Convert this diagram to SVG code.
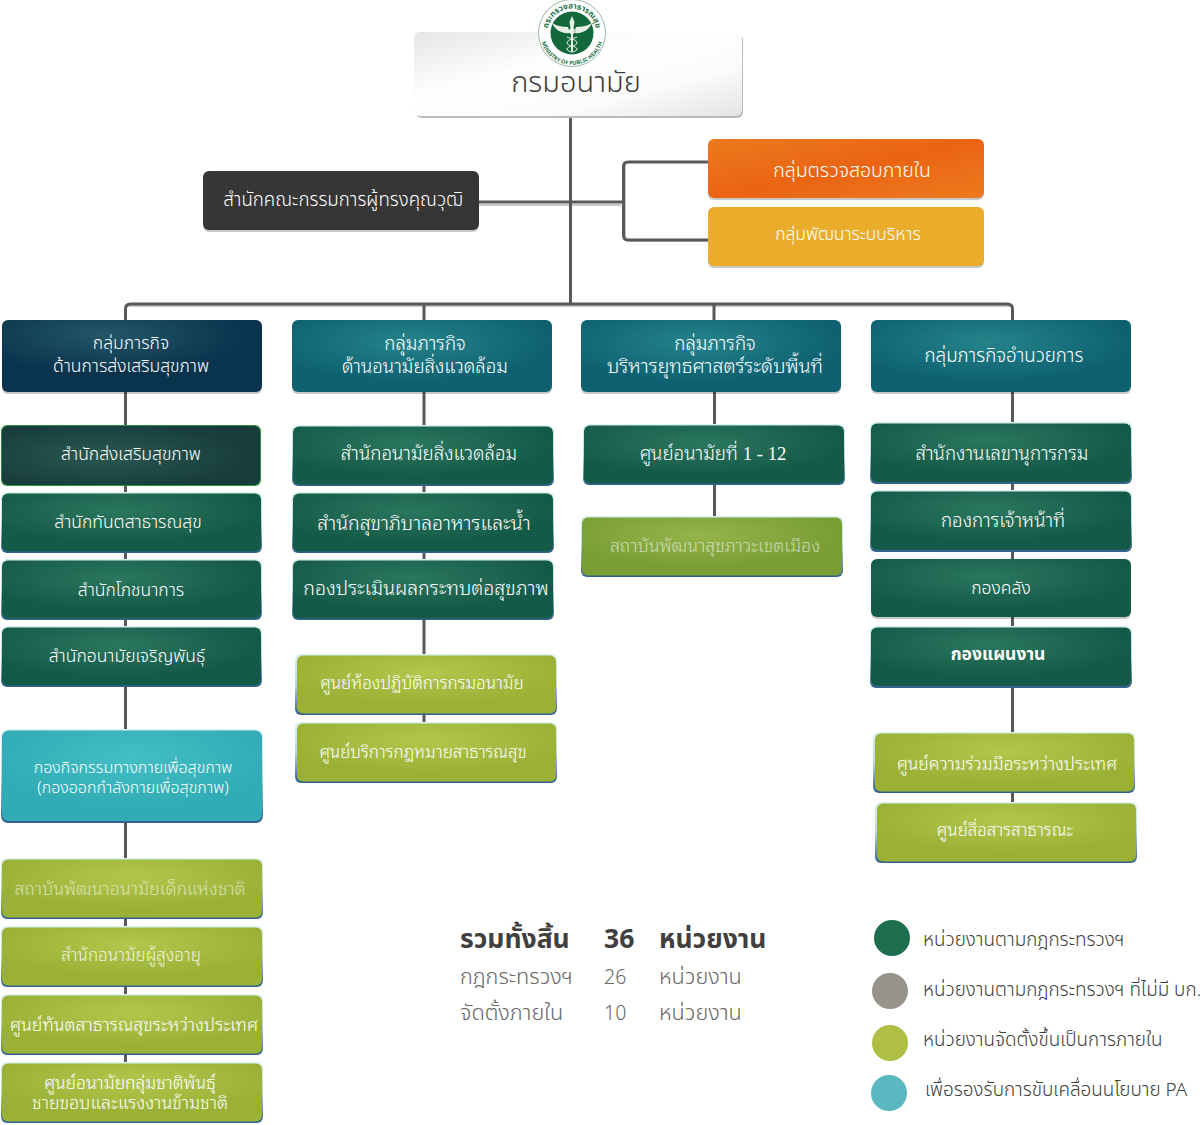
<svg xmlns="http://www.w3.org/2000/svg" width="1200" height="1125" viewBox="0 0 1200 1125">
<style>
text{font-family:"Noto Sans Thai","Noto Sans","Liberation Sans","DejaVu Sans",sans-serif}
.t{fill:#fff;text-anchor:middle;font-weight:300}
.lp{font-family:"Noto Sans Thai Looped","Noto Serif Thai","Noto Sans Thai","Noto Sans",sans-serif}
.dim{fill-opacity:.6}
.s160{font-size:16px}.s170{font-size:17px}.s175{font-size:17.500px}.s178{font-size:17.800px}.s187{font-size:18.700px}.s195{font-size:19.500px}
.ln{fill:none;stroke:#595959;stroke-width:3}
.sh{fill:none;stroke:#c9c9c9;stroke-width:2}
.e{fill:url(#edge)}
.s{fill:#000;fill-opacity:.22}
.g{fill:url(#green)}.l{fill:url(#lime)}.h{fill:url(#teal)}.c{fill:url(#cyan)}
.sum{fill:#666;font-size:21.700px;font-weight:300}.num{fill:#666;font-size:19.500px;font-weight:300}
.b{fill:#404040;font-size:26.500px;font-weight:700}
.lg{fill:#404040;font-size:18.900px;font-weight:300}
.ring{fill:#1a6f45;font-weight:700;text-anchor:middle}
</style>
<defs>
<linearGradient id="edge" x1="0" y1="0" x2="0" y2="1"><stop offset="0" stop-color="#d8f3ee"/><stop offset=".5" stop-color="#b8d8e0"/><stop offset="1" stop-color="#2f5f8c"/></linearGradient>
<radialGradient id="green" cx=".45" cy=".3" r=".55"><stop offset="0" stop-color="#2b775f"/><stop offset="1" stop-color="#145a48"/></radialGradient>
<radialGradient id="dk" cx=".4" cy=".5" r=".6"><stop offset="0" stop-color="#2a5750"/><stop offset="1" stop-color="#163c3c"/></radialGradient>
<radialGradient id="lime" cx=".5" cy=".3" r=".55"><stop offset="0" stop-color="#b3c64c"/><stop offset="1" stop-color="#9ab136"/></radialGradient>
<radialGradient id="lime2" cx=".45" cy=".3" r=".55"><stop offset="0" stop-color="#95b34a"/><stop offset="1" stop-color="#789e34"/></radialGradient>
<radialGradient id="teal" cx=".45" cy=".3" r=".55"><stop offset="0" stop-color="#25838a"/><stop offset="1" stop-color="#0e6171"/></radialGradient>
<radialGradient id="navy" cx=".4" cy=".2" r=".55"><stop offset="0" stop-color="#235668"/><stop offset="1" stop-color="#0a334d"/></radialGradient>
<radialGradient id="cyan" cx=".5" cy=".3" r=".55"><stop offset="0" stop-color="#43bfc4"/><stop offset="1" stop-color="#31abb5"/></radialGradient>
<linearGradient id="top" x1="0" y1="0" x2="1" y2="1"><stop offset="0" stop-color="#e6e6e4"/><stop offset=".4" stop-color="#fff"/><stop offset=".7" stop-color="#fbfbfb"/><stop offset="1" stop-color="#e4e4e2"/></linearGradient>
<linearGradient id="orange" x1="0" y1="0" x2="1" y2="1"><stop offset="0" stop-color="#ec7a1e"/><stop offset=".5" stop-color="#ea6413"/><stop offset="1" stop-color="#ee7a1f"/></linearGradient>
<path id="ringT" d="M548 38A24.500 24.500 0 1 1 596 38"/>
<path id="ringB" d="M541 39A31.500 31.500 0 0 0 603 39"/>
</defs>

<g id="connectors">
<path class="sh" d="M478 205H621M126 306H1012M625 164V237Q625 241 629 241H708"/>
<path class="ln" d="M570.500 116V303"/>
<path class="ln" d="M478 202H622"/>
<path class="ln" d="M708 162H628Q623.500 162 623.500 166.500V235Q623.500 240 628 240H708"/>
<path class="ln" d="M125.500 320V309Q125.500 304 130.500 304H1007.500Q1012.500 304 1012.500 309V321"/>
<path class="ln" d="M424 304V320M714 304V321"/>
<path class="ln" d="M125.500 392V1063M424 392V723M714.500 392V517M1012.500 392V803"/>
</g>

<g id="n-root"><rect x="416" y="34" width="327" height="84" rx="6" fill="#bbb"/><rect x="414" y="32" width="328" height="84" rx="6" fill="url(#top)"/><text x="576" y="92" font-size="29" font-weight="300" fill="#3c3c3c" text-anchor="middle">กรมอนามัย</text></g>
<g id="logo"><circle cx="572" cy="33" r="33.500" fill="#fff" stroke="#9db8a8" stroke-width="1"/><circle cx="572" cy="33" r="21.500" fill="#14693c"/><text class="ring" font-size="8"><textPath href="#ringT" startOffset="50%">กระทรวงสาธารณสุข</textPath></text><text class="ring" font-size="5.500"><textPath href="#ringB" startOffset="50%">MINISTRY OF PUBLIC HEALTH</textPath></text><path d="M572 16l2.500 6-1 6 2 3-2 3h-3l-2-3 2-3-1-6zM570 33C562 34 555 30 552 23C557 26 563 27 568 27ZM574 33C582 34 589 30 592 23C587 26 581 27 576 27ZM571 34h2v18h-2z" fill="#e6efe6"/><path d="M567 37c5 2 10 3 10 6s-10 3-10 6c0 2 4 3 5 3M577 37c-5 2-10 3-10 6s10 3 10 6c0 2-4 3-5 3" fill="none" stroke="#e6efe6" stroke-width="1"/></g>

<g id="n-board"><rect class="s" x="203" y="173" width="276" height="59" rx="6"/><rect x="203" y="171" width="276" height="59" rx="6" fill="#363636"/><text class="t s187" x="343" y="206">สำนักคณะกรรมการผู้ทรงคุณวุฒิ</text></g>
<g id="n-audit"><rect class="s" x="708" y="141" width="276" height="59" rx="6"/><rect x="708" y="139" width="276" height="59" rx="6" fill="url(#orange)"/><text class="t s195" x="852" y="177">กลุ่มตรวจสอบภายใน</text></g>
<g id="n-admin"><rect class="s" x="708" y="209" width="276" height="59" rx="6"/><rect x="708" y="207" width="276" height="59" rx="6" fill="#eaad2b"/><text class="t s175" x="848" y="240">กลุ่มพัฒนาระบบริหาร</text></g>

<g id="n-h1"><rect class="s" x="2" y="322" width="260" height="72" rx="6"/><rect x="2" y="320" width="260" height="72" rx="6" fill="url(#navy)"/><text class="t s175" x="131" y="349">กลุ่มภารกิจ</text><text class="t s175" x="131" y="372">ด้านการส่งเสริมสุขภาพ</text></g>
<g id="n-h2"><rect class="s" x="292" y="322" width="260" height="72" rx="6"/><rect class="h" x="292" y="320" width="260" height="72" rx="6"/><text class="t lp s187" x="425" y="350">กลุ่มภารกิจ</text><text class="t lp s187" x="425" y="373">ด้านอนามัยสิ่งแวดล้อม</text></g>
<g id="n-h3"><rect class="s" x="581" y="322" width="260" height="72" rx="6"/><rect class="h" x="581" y="320" width="260" height="72" rx="6"/><text class="t lp s187" x="715" y="350">กลุ่มภารกิจ</text><text class="t lp s195" x="715" y="373">บริหารยุทธศาสตร์ระดับพื้นที่</text></g>
<g id="n-h4"><rect class="s" x="871" y="322" width="260" height="72" rx="6"/><rect class="h" x="871" y="320" width="260" height="72" rx="6"/><text class="t s187" x="1004" y="362">กลุ่มภารกิจอำนวยการ</text></g>

<g id="n-c1-1"><rect x="1" y="425" width="260" height="61" rx="6" fill="#2e8f3c"/><rect x="2" y="426" width="258" height="59" rx="6" fill="url(#dk)"/><text class="t s175" x="131" y="460">สำนักส่งเสริมสุขภาพ</text></g>
<g id="n-c1-2"><rect class="e" x="1" y="492" width="261" height="61" rx="6"/><rect class="g" x="2" y="493.500" width="259" height="58" rx="6"/><text class="t s175" x="128" y="528">สำนักทันตสาธารณสุข</text></g>
<g id="n-c1-3"><rect class="e" x="1" y="559" width="261" height="61" rx="6"/><rect class="g" x="2" y="560.500" width="259" height="58" rx="6"/><text class="t s175" x="131" y="596">สำนักโภชนาการ</text></g>
<g id="n-c1-4"><rect class="e" x="1" y="626" width="261" height="61" rx="6"/><rect class="g" x="2" y="627.500" width="259" height="58" rx="6"/><text class="t s175" x="127" y="662">สำนักอนามัยเจริญพันธุ์</text></g>
<g id="n-c1-5"><rect class="e" x="1" y="729" width="262" height="94" rx="7"/><rect class="c" x="2" y="730.500" width="260" height="90.500" rx="7"/><text class="t s160" x="133" y="773">กองกิจกรรมทางกายเพื่อสุขภาพ</text><text class="t s160" x="133" y="793">(กองออกกำลังกายเพื่อสุขภาพ)</text></g>
<g id="n-c1-6"><rect class="e" x="1" y="858" width="262" height="61" rx="6"/><rect class="l" x="2" y="859.500" width="260" height="58" rx="6"/><text class="t lp s178 dim" x="130" y="895">สถาบันพัฒนาอนามัยเด็กแห่งชาติ</text></g>
<g id="n-c1-7"><rect class="e" x="1" y="926" width="262" height="61" rx="6"/><rect class="l" x="2" y="927.500" width="260" height="58" rx="6"/><text class="t lp s170" x="131" y="961" fill-opacity=".85">สำนักอนามัยผู้สูงอายุ</text></g>
<g id="n-c1-8"><rect class="e" x="1" y="994" width="262" height="61" rx="6"/><rect class="l" x="2" y="995.500" width="260" height="58" rx="6"/><text class="t lp s178" x="134" y="1031">ศูนย์ทันตสาธารณสุขระหว่างประเทศ</text></g>
<g id="n-c1-9"><rect class="e" x="1" y="1062" width="262" height="61" rx="6"/><rect class="l" x="2" y="1063.500" width="260" height="58" rx="6"/><text class="t lp s175" x="130" y="1089">ศูนย์อนามัยกลุ่มชาติพันธุ์</text><text class="t lp s178" x="130" y="1109">ชายขอบและแรงงานข้ามชาติ</text></g>

<g id="n-c2-1"><rect class="e" x="292" y="425" width="262" height="61" rx="6"/><rect class="g" x="293" y="426.500" width="260" height="58" rx="6"/><text class="t lp s187" x="429" y="460">สำนักอนามัยสิ่งแวดล้อม</text></g>
<g id="n-c2-2"><rect class="e" x="292" y="492" width="262" height="61" rx="6"/><rect class="g" x="293" y="493.500" width="260" height="58" rx="6"/><text class="t lp s195" x="424" y="530">สำนักสุขาภิบาลอาหารและน้ำ</text></g>
<g id="n-c2-3"><rect class="e" x="292" y="559" width="262" height="61" rx="6"/><rect class="g" x="293" y="560.500" width="260" height="58" rx="6"/><text class="t lp s195" x="426" y="595">กองประเมินผลกระทบต่อสุขภาพ</text></g>
<g id="n-c2-4"><rect class="e" x="295" y="654" width="262" height="61" rx="6"/><rect class="l" x="297" y="655.500" width="259" height="58" rx="6"/><text class="t lp s170" x="422" y="689">ศูนย์ห้องปฏิบัติการกรมอนามัย</text></g>
<g id="n-c2-5"><rect class="e" x="295" y="722" width="262" height="61" rx="6"/><rect class="l" x="297" y="723.500" width="259" height="58" rx="6"/><text class="t lp s170" x="423" y="758">ศูนย์บริการกฎหมายสาธารณสุข</text></g>

<g id="n-c3-1"><rect class="e" x="583" y="424" width="262" height="61" rx="6"/><rect class="g" x="584" y="425.500" width="260" height="58" rx="6"/><text class="t lp s187" x="713" y="460">ศูนย์อนามัยที่ <tspan font-family="Liberation Serif">1 - 12</tspan></text></g>
<g id="n-c3-2"><rect class="e" x="581" y="516" width="262" height="61" rx="6"/><rect x="582" y="517.500" width="260" height="58" rx="6" fill="url(#lime2)"/><text class="t lp s178 dim" x="715" y="552">สถาบันพัฒนาสุขภาวะเขตเมือง</text></g>

<g id="n-c4-1"><rect class="e" x="870" y="422" width="262" height="62" rx="6"/><rect class="g" x="871" y="423.500" width="260" height="58.500" rx="6"/><text class="t lp s187" x="1002" y="460">สำนักงานเลขานุการกรม</text></g>
<g id="n-c4-2"><rect class="e" x="870" y="490" width="262" height="62" rx="6"/><rect class="g" x="871" y="491.500" width="260" height="58.500" rx="6"/><text class="t lp s187" x="1003" y="527">กองการเจ้าหน้าที่</text></g>
<g id="n-c4-3"><rect class="s" x="871" y="560" width="260" height="59" rx="6"/><rect class="g" x="871" y="559" width="260" height="58" rx="6"/><text class="t s175" x="1001" y="594">กองคลัง</text></g>
<g id="n-c4-4"><rect class="e" x="870" y="626" width="262" height="62" rx="6"/><rect class="g" x="871" y="627.500" width="260" height="58.500" rx="6"/><text class="t s175" x="998" y="660" style="font-weight:700">กองแผนงาน</text></g>
<g id="n-c4-5"><rect class="e" x="873" y="732" width="262" height="61" rx="6"/><rect class="l" x="875" y="733.500" width="259" height="58" rx="6"/><text class="t lp s175" x="1007" y="770">ศูนย์ความร่วมมือระหว่างประเทศ</text></g>
<g id="n-c4-6"><rect class="e" x="875" y="802" width="262" height="61" rx="6"/><rect class="l" x="877" y="803.500" width="259" height="58" rx="6"/><text class="t lp s170" x="1005" y="836">ศูนย์สื่อสารสาธารณะ</text></g>

<g id="summary">
<text class="b" x="460" y="948">รวมทั้งสิ้น</text><text class="b" x="604" y="948">36</text><text class="b" x="659" y="948">หน่วยงาน</text>
<text class="sum" x="460" y="984">กฎกระทรวงฯ</text><text class="num" x="604" y="984">26</text><text class="sum" x="659" y="984">หน่วยงาน</text>
<text class="sum" x="460" y="1020">จัดตั้งภายใน</text><text class="num" x="604" y="1020">10</text><text class="sum" x="659" y="1020">หน่วยงาน</text>
</g>
<g id="legend">
<circle cx="892" cy="938" r="18" fill="#1d6e4f"/><text class="lg" x="923" y="946">หน่วยงานตามกฎกระทรวงฯ</text>
<circle cx="890" cy="991" r="18" fill="#96938b"/><text class="lg" x="923" y="996">หน่วยงานตามกฎกระทรวงฯ ที่ไม่มี บก.</text>
<circle cx="890" cy="1043" r="18" fill="#aebf43"/><text class="lg" x="923" y="1046">หน่วยงานจัดตั้งขึ้นเป็นการภายใน</text>
<circle cx="889" cy="1093" r="18" fill="#59b8c0"/><text class="lg" x="925" y="1096">เพื่อรองรับการขับเคลื่อนนโยบาย PA</text>
</g>
</svg>
